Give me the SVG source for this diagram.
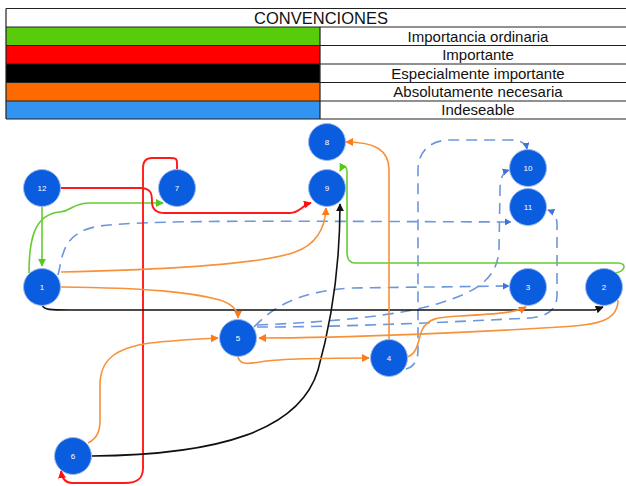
<svg xmlns="http://www.w3.org/2000/svg" width="626" height="486" viewBox="0 0 626 486">
<style>
.lg{stroke:#222;stroke-width:1.2}
.lt{font-family:"Liberation Sans",Arial,sans-serif;font-size:15px;fill:#111;text-anchor:middle}
.nd{fill:#0b5ddf;stroke:#9db8ee;stroke-width:1}
.nt{font-family:"Liberation Sans",Arial,sans-serif;font-size:8px;fill:#fff;text-anchor:middle}
.c{fill:none;stroke-width:1.6}
.g{stroke:#66cc2e}
.r{stroke:#ff1a1a;stroke-width:1.9}
.k{stroke:#111}
.o{stroke:#f7923a}
.b{stroke:#6d96dc;stroke-dasharray:11 7}
</style>
<defs>
<marker id="mg" viewBox="0 0 10 10" refX="9" refY="5" markerWidth="8" markerHeight="8" markerUnits="userSpaceOnUse" orient="auto"><path d="M0,0 L10,5 L0,10z" fill="#55c91a"/></marker>
<marker id="mr" viewBox="0 0 10 10" refX="9" refY="5" markerWidth="8" markerHeight="8" markerUnits="userSpaceOnUse" orient="auto"><path d="M0,0 L10,5 L0,10z" fill="#ff1010"/></marker>
<marker id="mk" viewBox="0 0 10 10" refX="9" refY="5" markerWidth="8" markerHeight="8" markerUnits="userSpaceOnUse" orient="auto"><path d="M0,0 L10,5 L0,10z" fill="#111"/></marker>
<marker id="mo" viewBox="0 0 10 10" refX="9" refY="5" markerWidth="8" markerHeight="8" markerUnits="userSpaceOnUse" orient="auto"><path d="M0,0 L10,5 L0,10z" fill="#ff7a1a"/></marker>
<marker id="mb" viewBox="0 0 10 10" refX="9" refY="5" markerWidth="7" markerHeight="7" markerUnits="userSpaceOnUse" orient="auto"><path d="M0,0 L10,5 L0,10z" fill="#3f73d6"/></marker>
</defs>
<rect width="626" height="486" fill="#fff"/>
<g id="legend">
<rect x="6" y="27" width="314" height="18.5" fill="#58cc0a"/>
<rect x="6" y="45.5" width="314" height="18.5" fill="#ff0000"/>
<rect x="6" y="64" width="314" height="18.5" fill="#000"/>
<rect x="6" y="82.5" width="314" height="18.5" fill="#ff6a00"/>
<rect x="6" y="101" width="314" height="18" fill="#3393f0"/>
<path class="lg" d="M6,8.5 H630 M6,27 H630 M6,45.5 H630 M6,64 H630 M6,82.5 H630 M6,101 H630 M6,119 H630 M6,8.5 V119 M320,27 V119"/>
<text class="lt" x="321" y="23.5" style="font-size:16.5px">CONVENCIONES</text>
<text class="lt" x="478" y="41.5">Importancia ordinaria</text>
<text class="lt" x="478" y="60">Importante</text>
<text class="lt" x="478" y="78.5">Especialmente importante</text>
<text class="lt" x="478" y="97">Absolutamente necesaria</text>
<text class="lt" x="478" y="115">Indeseable</text>
</g>
<g id="connectors">
<path class="c b" d="M58,275 C63,255 62,232 100,226 C150,220 250,221 511,222" marker-end="url(#mb)"/>
<path class="c b" d="M254,327 C275,305 300,292 350,288 L509,286" marker-end="url(#mb)"/>
<path class="c b" d="M257,325 C330,322 400,316 440,303 C475,292 497,280 499,250 L500,190 C500,178 503,172 509,170" marker-end="url(#mb)"/>
<path class="c b" d="M257,327 C350,327 450,322 530,318 C550,316 557,308 557,295 L557,225 C557,215 553,212 548,210" marker-end="url(#mb)"/>
<path class="c b" d="M406,369 C414,367 418,360 418,350 L418,170 C418,150 432,140 450,140 L510,140 C520,140 526,143 527,149" marker-end="url(#mb)"/>
<path class="c g" d="M42,207 L42,266" marker-end="url(#mg)"/>
<path class="c g" d="M29,273 C29,240 34,214 60,212 C72,211 72,203 90,203 L163,203" marker-end="url(#mg)"/>
<path class="c g" d="M614,273 C626,272 627,263 618,263 L355,263 C349,263 347,258 347,252 L347,172 C347,166 343,165 340,171" marker-end="url(#mg)"/>
<path class="c r" d="M61,188 L140,188 C152,188 152,195 152,202 C152,210 157,213 165,213 L290,213 C300,213 302,205 311,203" marker-end="url(#mr)"/>
<path class="c r" d="M177,169 L177,163 C177,158 175,158 170,158 L152,158 C146,158 143,162 143,168 L143,468 C143,478 138,483 125,483 L72,483 C65,483 62,478 61,471" marker-end="url(#mr)"/>
<path class="c k" d="M42,305 C44,310 50,310 70,310 L595,310 L603,307" marker-end="url(#mk)"/>
<path class="c k" d="M92,456 C220,455 300,430 318,370 C332,320 340,260 340,204" marker-end="url(#mk)"/>
<path class="c o" d="M389,340 L389,170 C389,150 375,142 346,142" marker-end="url(#mo)"/>
<path class="c o" d="M61,272 C150,270 260,265 295,252 C315,245 325,230 326,208" marker-end="url(#mo)"/>
<path class="c o" d="M61,287 C150,288 190,292 220,300 C232,304 238,310 238,318" marker-end="url(#mo)"/>
<path class="c o" d="M88,443 C98,438 100,430 100,420 L100,385 C100,360 115,348 150,343 C175,340 200,339 218,338" marker-end="url(#mo)"/>
<path class="c o" d="M238,357 C240,365 248,364 260,362 C280,358 330,358 369,358" marker-end="url(#mo)"/>
<path class="c o" d="M618,300 C618,320 600,325 560,327 C480,332 350,338 259,338" marker-end="url(#mo)"/>
<path class="c o" d="M407,357 C418,354 418,340 422,330 C428,318 438,317 460,316 C495,314 515,313 526,307" marker-end="url(#mo)"/>
</g>
<g id="n12"><circle class="nd" cx="42" cy="188" r="18.5"/><text class="nt" x="42" y="191">12</text></g>
<g id="n7"><circle class="nd" cx="177" cy="188" r="18.5"/><text class="nt" x="177" y="191">7</text></g>
<g id="n8"><circle class="nd" cx="327" cy="142" r="18.5"/><text class="nt" x="327" y="145">8</text></g>
<g id="n9"><circle class="nd" cx="327" cy="188" r="18.5"/><text class="nt" x="327" y="191">9</text></g>
<g id="n10"><circle class="nd" cx="528" cy="168" r="18.5"/><text class="nt" x="528" y="171">10</text></g>
<g id="n11"><circle class="nd" cx="528" cy="207" r="18.5"/><text class="nt" x="528" y="210">11</text></g>
<g id="n1"><circle class="nd" cx="42" cy="287" r="18.5"/><text class="nt" x="42" y="290">1</text></g>
<g id="n3"><circle class="nd" cx="528" cy="287" r="18.5"/><text class="nt" x="528" y="290">3</text></g>
<g id="n2"><circle class="nd" cx="604" cy="287" r="18.5"/><text class="nt" x="604" y="290">2</text></g>
<g id="n5"><circle class="nd" cx="238" cy="338" r="18.5"/><text class="nt" x="238" y="341">5</text></g>
<g id="n4"><circle class="nd" cx="389" cy="358" r="18.5"/><text class="nt" x="389" y="361">4</text></g>
<g id="n6"><circle class="nd" cx="73" cy="456" r="18.5"/><text class="nt" x="73" y="459">6</text></g>
</svg>
